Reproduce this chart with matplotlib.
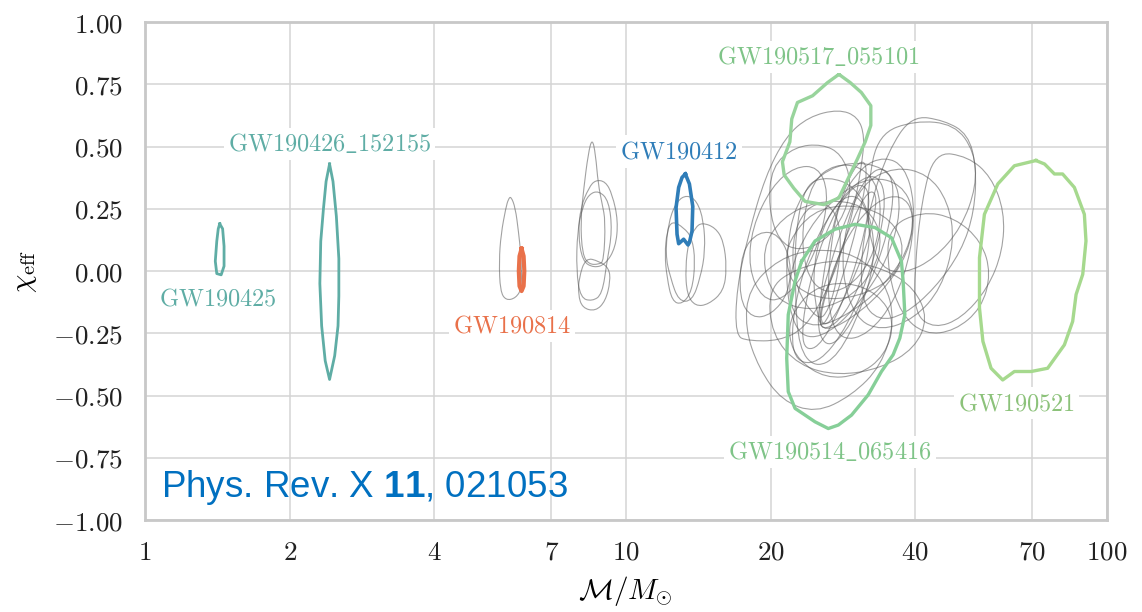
import matplotlib.pyplot as plt
from matplotlib.path import Path
from matplotlib.patches import PathPatch

plt.rcParams['mathtext.fontset'] = 'cm'
plt.rcParams['mathtext.rm'] = 'Liberation Sans'
plt.rcParams['mathtext.bf'] = 'Liberation Sans:bold'

# 90% credible contours, (chirp mass in Msun, chi_eff) around each contour
gw190425 = [(1.43, 0.19), (1.45, 0.17), (1.46, 0.10), (1.46, 0.02), (1.44, -0.015),
            (1.41, -0.01), (1.40, 0.04), (1.41, 0.12), (1.42, 0.17)]
gw190426 = [(2.42, 0.43), (2.46, 0.36), (2.50, 0.22), (2.53, 0.05), (2.53, -0.10),
            (2.52, -0.22), (2.48, -0.34), (2.42, -0.435), (2.37, -0.36), (2.33, -0.22),
            (2.31, -0.05), (2.32, 0.12), (2.35, 0.25), (2.38, 0.36)]
gw190814 = [(6.07, 0.09), (6.13, 0.06), (6.15, 0.0), (6.13, -0.06), (6.07, -0.08),
            (6.01, -0.06), (5.99, 0.0), (6.01, 0.06)]
gw190412 = [(13.30, 0.39), (13.56, 0.35), (13.78, 0.26), (13.73, 0.16), (13.56, 0.115),
            (13.47, 0.105), (13.19, 0.128), (12.88, 0.110), (12.78, 0.148), (12.72, 0.255),
            (12.88, 0.336), (13.09, 0.376)]
gw190517 = [(27.75, 0.79), (29.29, 0.757), (30.9, 0.717), (32.33, 0.664), (32.33, 0.585),
            (31.47, 0.519), (30.35, 0.452), (29.02, 0.373), (27.75, 0.294), (25.81, 0.267),
            (23.59, 0.280), (22.35, 0.333), (21.35, 0.386), (21.17, 0.439), (21.94, 0.519),
            (22.14, 0.611), (22.75, 0.677), (24.46, 0.704), (26.28, 0.757)]
gw190514 = [(23.22, 0.040), (24.75, 0.121), (27.23, 0.168), (29.97, 0.188), (32.96, 0.175),
            (35.69, 0.134), (37.43, 0.040), (37.74, -0.04), (38.05, -0.175), (37.15, -0.269),
            (35.97, -0.336), (34.02, -0.403), (31.92, -0.497), (29.48, -0.578), (27.67, -0.618),
            (26.37, -0.632), (24.75, -0.605), (22.49, -0.551), (21.77, -0.484), (21.61, -0.350),
            (21.77, -0.175), (22.49, -0.04)]
gw190521 = [(71.3, 0.444), (74.3, 0.430), (77.9, 0.390), (81.0, 0.390), (85.7, 0.336),
            (89.9, 0.228), (90.6, 0.121), (89.2, -0.013), (86.4, -0.094), (85.0, -0.202),
            (81.7, -0.296), (75.4, -0.390), (69.7, -0.403), (64.3, -0.403), (60.8, -0.437),
            (57.5, -0.390), (55.3, -0.282), (54.4, -0.148), (54.4, 0.054), (55.7, 0.228),
            (59.4, 0.350), (64.3, 0.423)]

highlighted = [
    # contour, colour, line width
    (gw190425, '#5fada5', 2.0),
    (gw190426, '#5fada5', 2.0),
    (gw190814, '#e9714a', 3.0),
    (gw190412, '#2f7db8', 2.6),
    (gw190517, '#98d49c', 2.4),
    (gw190514, '#86cf98', 2.4),
    (gw190521, '#a6d98e', 2.4),
]

labels = ['GW190425', 'GW190426_152155', 'GW190814', 'GW190412',
          'GW190517_055101', 'GW190514_065416', 'GW190521']
label_mass = [1.42, 2.42, 5.8, 12.9, 25.1, 26.6, 65.0]
label_chi = [-0.11, 0.51, -0.22, 0.48, 0.86, -0.725, -0.53]
label_colors = ['#5fada5', '#5fada5', '#e9714a', '#2f7db8', '#7fc488', '#7fc488', '#8cc27a']

# the rest of the catalogue, drawn in grey
others = [
    [(5.77, 0.30), (5.89, 0.255), (5.98, 0.16), (6.05, 0.067), (6.08, -0.067), (5.91, -0.108),
     (5.63, -0.118), (5.48, -0.08), (5.45, 0.04), (5.5, 0.148), (5.63, 0.255), (5.7, 0.29)],
    [(8.51, 0.535), (8.65, 0.47), (8.76, 0.35), (8.93, 0.269), (9.07, 0.202), (9.0, 0.04),
     (8.79, 0.027), (8.38, 0.027), (8.12, 0.067), (8.05, 0.202), (8.18, 0.336), (8.35, 0.47)],
    [(8.65, 0.366), (9.07, 0.36), (9.37, 0.309), (9.64, 0.202), (9.52, 0.094), (9.07, 0.027),
     (8.58, 0.013), (8.12, 0.04), (7.96, 0.148), (8.05, 0.255), (8.38, 0.336)],
    [(8.25, 0.054), (8.79, 0.04), (9.22, 0.013), (9.29, -0.04), (9.07, -0.121), (8.65, -0.161),
     (8.12, -0.148), (7.96, -0.094), (7.99, -0.027)],
    [(8.38, 0.309), (8.79, 0.323), (9.22, 0.282), (9.37, 0.161), (9.14, 0.040), (8.93, -0.094),
     (8.51, -0.121), (8.05, -0.108), (7.89, 0.0), (7.93, 0.161), (8.12, 0.255)],
    [(13.40, 0.306), (14.06, 0.282), (14.52, 0.202), (14.63, 0.081), (14.29, -0.027),
     (13.73, -0.121), (12.88, -0.121), (12.38, -0.027), (12.08, 0.067), (12.28, 0.202),
     (12.78, 0.282)],
    [(14.40, 0.195), (15.35, 0.175), (15.97, 0.121), (16.22, 0.013), (15.97, -0.081),
     (14.86, -0.134), (13.95, -0.141), (13.40, -0.094), (13.30, 0.013), (13.51, 0.121),
     (13.95, 0.175)],
    [(12.48, 0.202), (13.19, 0.175), (13.73, 0.134), (13.95, 0.040), (13.73, -0.081),
     (13.09, -0.134), (12.48, -0.121), (12.18, -0.027), (12.05, 0.067), (12.18, 0.161)],
    [(16.9, -0.26), (17.0, -0.07), (18.0, 0.15), (19.5, 0.38), (21.5, 0.54), (24.0, 0.62),
     (27.7, 0.65), (30.4, 0.62), (31.4, 0.54), (30.9, 0.42), (30.0, 0.28), (28.6, 0.12),
     (26.4, -0.07), (23.6, -0.23), (20.8, -0.28), (18.0, -0.28)],
    [(18.0, -0.07), (20.8, 0.05), (24.8, 0.09), (30.0, 0.07), (34.6, -0.04), (36.3, -0.20),
     (34.0, -0.38), (29.5, -0.50), (24.8, -0.57), (21.1, -0.52), (18.9, -0.39), (17.7, -0.23)],
    [(35.1, 0.48), (39.3, 0.625), (46.0, 0.605), (51.5, 0.55), (53.6, 0.42), (53.1, 0.24),
     (49.9, 0.08), (43.9, -0.07), (38.0, -0.175), (33.5, -0.20), (30.9, -0.12), (30.9, 0.08),
     (32.4, 0.28)],
    [(41.2, 0.28), (43.9, 0.48), (51.5, 0.46), (57.5, 0.38), (61.3, 0.24), (60.8, 0.08),
     (56.6, -0.07), (49.9, -0.19), (43.9, -0.23), (39.9, -0.175), (39.9, 0.01)],
    [(31.9, 0.35), (33.5, 0.55), (39.9, 0.605), (48.3, 0.59), (53.1, 0.48), (53.6, 0.34),
     (49.9, 0.175), (43.9, 0.05), (38.0, -0.01), (34.0, 0.01), (31.9, 0.15)],
    [(28.6, 0.175), (30.9, 0.35), (36.3, 0.42), (42.5, 0.39), (46.8, 0.28), (48.3, 0.12),
     (45.3, -0.07), (39.9, -0.19), (34.0, -0.24), (30.0, -0.19), (28.1, -0.01)],
    [(21.5, 0.05), (22.5, 0.28), (26.4, 0.42), (31.9, 0.44), (36.3, 0.38), (37.4, 0.24),
     (35.1, 0.05), (30.9, -0.12), (26.4, -0.255), (23.2, -0.27), (21.8, -0.15)],
    [(22.5, 0.15), (23.6, 0.35), (26.4, 0.38), (30.0, 0.34), (32.4, 0.215), (33.0, 0.04),
     (30.9, -0.15), (27.7, -0.34), (24.8, -0.39), (22.9, -0.31), (22.5, -0.09)],
    [(24.8, -0.20), (26.4, 0.01), (29.0, 0.24), (31.9, 0.39), (34.6, 0.42), (36.3, 0.34),
     (35.1, 0.15), (31.9, -0.07), (28.6, -0.255), (26.0, -0.31)],
    [(22.1, -0.175), (21.8, -0.01), (24.0, 0.175), (27.7, 0.31), (32.4, 0.38), (37.4, 0.35),
     (39.9, 0.24), (38.7, 0.08), (34.0, -0.07), (29.0, -0.175), (24.8, -0.23)],
    [(17.2, -0.11), (17.4, 0.08), (18.9, 0.16), (20.8, 0.15), (22.1, 0.04), (21.8, -0.09),
     (20.1, -0.175), (18.3, -0.19)],
    [(18.0, 0.01), (18.3, 0.175), (20.1, 0.34), (22.5, 0.42), (25.1, 0.42), (26.4, 0.32),
     (25.6, 0.15), (23.6, -0.01), (21.1, -0.12), (19.2, -0.11)],
    [(21.8, -0.27), (22.1, -0.175), (24.4, -0.07), (28.6, -0.04), (33.5, -0.09), (36.3, -0.20),
     (34.6, -0.34), (30.4, -0.42), (26.0, -0.43), (22.9, -0.36)],
    [(20.1, -0.255), (19.8, -0.07), (22.5, 0.01), (27.7, 0.05), (34.6, 0.01), (39.9, -0.07),
     (42.5, -0.19), (39.9, -0.31), (34.0, -0.39), (27.7, -0.42), (22.9, -0.38)],
    [(26.4, 0.04), (27.7, 0.28), (30.9, 0.42), (34.6, 0.46), (38.0, 0.42), (39.9, 0.28),
     (39.3, 0.08), (36.3, -0.12), (31.9, -0.255), (28.1, -0.28), (26.4, -0.175)],
    [(23.2, 0.175), (24.4, 0.36), (27.2, 0.43), (30.9, 0.42), (33.5, 0.34), (34.0, 0.20),
     (32.4, 0.04), (29.0, -0.07), (25.6, -0.09), (23.6, 0.0)],
    [(25.1, -0.20), (26.4, -0.04), (29.0, 0.15), (33.0, 0.28), (37.4, 0.31), (39.9, 0.23),
     (38.7, 0.07), (34.0, -0.09), (29.0, -0.20), (26.0, -0.24)],
    [(25.1, -0.20), (24.4, -0.01), (25.6, 0.175), (28.1, 0.30), (30.9, 0.30), (32.4, 0.175),
     (31.4, -0.01), (28.6, -0.175), (26.0, -0.24)],
    [(25.1, -0.20), (22.5, -0.07), (22.1, 0.12), (23.6, 0.255), (26.4, 0.28), (28.1, 0.175),
     (27.7, -0.01), (26.4, -0.16)],
    [(21.5, 0.03), (21.8, 0.12), (24.4, 0.24), (29.0, 0.27), (34.6, 0.23), (38.0, 0.12),
     (36.8, -0.01), (31.9, -0.09), (26.4, -0.12), (22.5, -0.07)],
    [(35.1, -0.01), (35.1, 0.175), (41.2, 0.24), (48.3, 0.215), (54.9, 0.12), (57.5, -0.01),
     (54.9, -0.15), (48.3, -0.24), (41.9, -0.255), (37.4, -0.175)],
    [(19.8, 0.255), (20.1, 0.42), (22.5, 0.50), (25.6, 0.51), (28.1, 0.47), (29.5, 0.36),
     (28.6, 0.23), (26.0, 0.12), (22.9, 0.08), (20.8, 0.12)],
    [(19.8, -0.07), (19.2, 0.09), (21.1, 0.215), (24.8, 0.28), (30.0, 0.28), (33.5, 0.20),
     (34.0, 0.07), (30.9, -0.07), (26.4, -0.15), (22.1, -0.15)],
    [(25.1, -0.20), (27.0, 0.0), (29.5, 0.20), (32.0, 0.33), (33.5, 0.30), (32.0, 0.12),
     (29.0, -0.08), (26.5, -0.22)],
    [(25.1, -0.20), (26.0, 0.05), (28.0, 0.30), (30.5, 0.45), (32.0, 0.42), (30.5, 0.20),
     (28.0, -0.05), (26.0, -0.22)],
    [(23.0, -0.30), (24.0, -0.05), (26.5, 0.20), (30.0, 0.36), (32.5, 0.32), (31.0, 0.10),
     (28.0, -0.15), (25.0, -0.32)],
    [(22.0, -0.35), (22.5, -0.10), (25.0, 0.15), (29.0, 0.33), (33.0, 0.40), (35.0, 0.30),
     (33.0, 0.05), (29.0, -0.22), (25.0, -0.38)],
]

x_ticks = [1, 2, 4, 7, 10, 20, 40, 70, 100]
y_ticks = [-1.0, -0.75, -0.5, -0.25, 0.0, 0.25, 0.5, 0.75, 1.0]


def smooth_path(points):
    # closed curve: quadratic beziers through the midpoints of the outline
    n = len(points)
    mids = [((points[i][0] * points[(i + 1) % n][0]) ** 0.5,
             (points[i][1] + points[(i + 1) % n][1]) / 2) for i in range(n)]
    verts = [mids[-1]]
    codes = [Path.MOVETO]
    for i in range(n):
        verts += [points[i], mids[i]]
        codes += [Path.CURVE3, Path.CURVE3]
    return Path(verts, codes)


def main():
    fig = plt.figure(figsize=(11.42, 6.12), dpi=100)
    ax = fig.add_axes([0.127, 0.150, 0.842, 0.814])

    ax.set_xscale('log')
    ax.set_xlim(1, 100)
    ax.set_ylim(-1, 1)
    ax.set_xticks(x_ticks)
    ax.set_xticklabels([f'${t}$' for t in x_ticks])
    ax.minorticks_off()
    ax.set_yticks(y_ticks)
    ax.set_yticklabels([f'${t:.2f}$' for t in y_ticks])
    ax.tick_params(length=0, labelsize=19.5, colors='#222222')
    ax.tick_params(axis='y', pad=16)
    ax.tick_params(axis='x', pad=14)
    ax.grid(True, color='#d4d4d4', lw=1.1)
    ax.set_axisbelow(True)
    for sp in ax.spines.values():
        sp.set_color('#c8c8c8')
        sp.set_linewidth(2.0)

    for c in others:
        ax.add_patch(PathPatch(smooth_path(c), fill=False, ec='#555555',
                               lw=0.8, alpha=0.55, zorder=2))

    for c, col, lw in highlighted:
        xs = [p[0] for p in c] + [c[0][0]]
        ys = [p[1] for p in c] + [c[0][1]]
        ax.plot(xs, ys, color=col, lw=lw, zorder=3, solid_joinstyle='round')

    for name, m, chi, col in zip(labels, label_mass, label_chi, label_colors):
        ax.text(m, chi, r'$\mathrm{' + name.replace('_', r'\_') + '}$',
                color=col, fontsize=17.5, ha='center', va='center', zorder=4,
                bbox=dict(fc='white', ec='none', pad=3))

    ax.set_xlabel(r'$\mathcal{M}/M_{\odot}$', fontsize=21, labelpad=6)
    ax.set_ylabel(r'$\chi_{\mathrm{eff}}$', fontsize=21, labelpad=10)

    ax.text(0.017, 0.066, r'Phys. Rev. X $\mathbf{11}$, 021053', transform=ax.transAxes,
            fontsize=26.5, color='#0070c0', family='Liberation Sans',
            math_fontfamily='custom', ha='left', va='center', zorder=5)

    fig.savefig('out.png', dpi=100)


if __name__ == '__main__':
    main()
